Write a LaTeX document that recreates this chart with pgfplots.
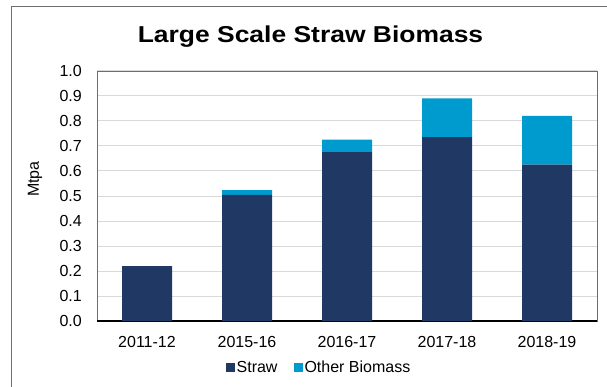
\documentclass[border=0pt]{standalone}
\usepackage{pgfplots}
\pgfplotsset{compat=1.18}
\usepackage{fontspec}
\setmainfont{Liberation Sans}
\definecolor{strawcol}{RGB}{32,56,100}
\definecolor{othercol}{RGB}{0,155,206}
\definecolor{gridcol}{RGB}{217,217,217}
\definecolor{framecol}{RGB}{110,110,110}

\pgfplotstableread{
idx straw other
0   0.220 0.000
1   0.505 0.019
2   0.675 0.050
3   0.735 0.155
4   0.625 0.195
}\biomass

\begin{document}
\begin{tikzpicture}[x=1pt,y=1pt]
\useasboundingbox (0,0) rectangle (607,-387);
% chart frame
\draw[framecol, line width=0.8pt] (11.5,-387) -- (11.5,-6) -- (607,-6);
% title
\node[anchor=base, inner sep=0pt, font=\fontsize{23}{27}\selectfont\bfseries, xscale=1.15]
  at (310.5,-42.7) {Large Scale Straw Biomass};
% y axis label
\node[rotate=90, inner sep=0pt, font=\fontsize{16}{19}\selectfont] at (35,-179) {Mtpa};

\begin{axis}[
  at={(97pt,-321pt)}, anchor=south west,
  scale only axis, width=500pt, height=250pt,
  ybar stacked, bar width=50pt,
  xmin=-0.5, xmax=4.5, ymin=0, ymax=1.0,
  xtick={0,1,2,3,4},
  xticklabels={2011-12,2015-16,2016-17,2017-18,2018-19},
  ytick={0,0.1,...,1.0},
  yticklabel={\pgfmathprintnumber[fixed,fixed zerofill,precision=1]{\tick}},
  /pgf/number format/assume math mode=true,
  major tick length=0pt,
  tick label style={font=\fontsize{16}{19}\selectfont},
  yticklabel style={inner sep=0pt, xshift=-15pt},
  xticklabel style={inner sep=0pt, yshift=-15pt},
  ymajorgrids, major grid style={gridcol, line width=1pt},
  axis line style={framecol, line width=0.8pt},
  legend style={at={(0.444,-0.186)}, anchor=center, draw=none, fill=none,
    font=\fontsize{16}{19}\selectfont, legend columns=2,
    /tikz/every even column/.append style={column sep=14pt},
    inner sep=0pt},
  legend cell align=left,
  legend image code/.code={\fill[#1] (0pt,-4.5pt) rectangle (9pt,4.5pt);},
]
\addplot[fill=strawcol, draw=none] table[x=idx, y=straw] {\biomass};
\addplot[fill=othercol, draw=none] table[x=idx, y=other] {\biomass};
\legend{Straw, Other Biomass}
\draw[black, line width=1.2pt] (rel axis cs:0,0) -- (rel axis cs:1,0);
\end{axis}
\end{tikzpicture}
\end{document}
